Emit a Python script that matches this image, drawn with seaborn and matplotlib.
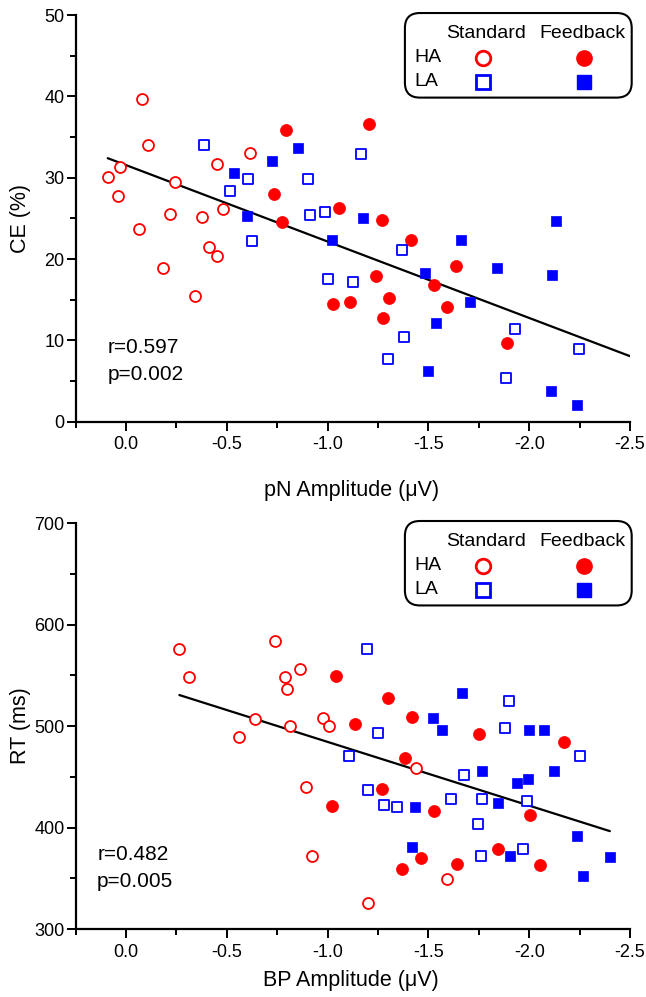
import numpy as np
import matplotlib
matplotlib.use("Agg")
import matplotlib.pyplot as plt
from matplotlib.patches import FancyBboxPatch
from matplotlib.ticker import MultipleLocator, FormatStrFormatter
import seaborn as sns

# ---------------- data: top panel (pN amplitude vs CE) ----------------
top_ha_std_x = [-0.08, -0.11, 0.03, 0.09, 0.04, -0.245, -0.45, -0.615, -0.22, -0.375, -0.48, -0.065, -0.41, -0.45, -0.185, -0.345]
top_ha_std_y = [39.7, 34.0, 31.3, 30.1, 27.7, 29.5, 31.7, 33.0, 25.6, 25.2, 26.2, 23.7, 21.5, 20.4, 18.9, 15.5]
top_ha_fb_x = [-0.795, -0.735, -1.055, -1.205, -0.775, -1.025, -1.11, -1.27, -1.415, -1.24, -1.305, -1.275, -1.635, -1.53, -1.59, -1.89]
top_ha_fb_y = [35.9, 28.0, 26.3, 36.6, 24.5, 14.5, 14.7, 24.8, 22.4, 17.9, 15.2, 12.7, 19.2, 16.8, 14.1, 9.7]
top_la_std_x = [-0.385, -0.605, -0.515, -0.905, -1.165, -0.915, -0.985, -0.625, -1.0, -1.125, -1.37, -1.38, -1.3, -1.93, -2.245, -1.885]
top_la_std_y = [34.0, 29.9, 28.4, 29.8, 32.9, 25.4, 25.8, 22.2, 17.6, 17.2, 21.1, 10.4, 7.7, 11.4, 9.0, 5.4]
top_la_fb_x = [-0.535, -0.725, -0.855, -0.6, -1.175, -1.02, -1.66, -1.485, -1.84, -2.135, -2.115, -1.705, -1.54, -1.5, -2.11, -2.235]
top_la_fb_y = [30.6, 32.1, 33.7, 25.3, 25.1, 22.4, 22.3, 18.3, 18.9, 24.7, 18.1, 14.7, 12.1, 6.25, 3.8, 2.0]

# ---------------- data: bottom panel (BP amplitude vs RT) ----------------
bot_ha_std_x = [-0.265, -0.315, -0.74, -0.865, -0.79, -0.80, -0.64, -0.815, -0.975, -1.005, -0.56, -0.895, -0.925, -1.2, -1.44, -1.59]
bot_ha_std_y = [576, 548, 584, 556, 548, 536, 507, 500, 508, 500, 489, 440, 372, 326, 459, 349]
bot_ha_fb_x = [-1.04, -1.135, -1.02, -1.30, -1.42, -1.75, -2.17, -1.385, -1.27, -1.53, -2.005, -1.845, -1.465, -1.37, -1.64, -2.055]
bot_ha_fb_y = [549, 502, 421, 528, 509, 492, 484, 468, 438, 416, 412, 379, 370, 359, 364, 363]
bot_la_std_x = [-1.195, -1.90, -1.105, -1.2, -1.25, -1.88, -2.25, -1.28, -1.345, -1.675, -1.61, -1.765, -1.99, -1.745, -1.76, -1.97]
bot_la_std_y = [576, 525, 470, 437, 493, 498, 470, 422, 420, 452, 428, 428, 426, 403, 372, 379]
bot_la_fb_x = [-1.665, -1.525, -1.565, -2.0, -2.075, -1.765, -2.125, -1.94, -1.995, -1.845, -1.435, -2.235, -1.42, -1.905, -2.40, -2.265]
bot_la_fb_y = [533, 508, 496, 496, 496, 456, 456, 444, 448, 424, 420, 392, 381, 372, 371, 352]

top_stats = ["r=0.597", "p=0.002"]
bot_stats = ["r=0.482", "p=0.005"]
top_xlabel = "pN Amplitude (\u03bcV)"
bot_xlabel = "BP Amplitude (\u03bcV)"
top_ylabel = "CE (%)"
bot_ylabel = "RT (ms)"
legend_cols = ["Standard", "Feedback"]
legend_rows = ["HA", "LA"]

RED = "#ff0000"
BLUE = "#0000ff"

sns.set_style("ticks")
plt.rcParams["font.family"] = ["Liberation Sans", "DejaVu Sans"]
plt.rcParams["axes.unicode_minus"] = False
plt.rcParams["text.color"] = "black"
plt.rcParams["axes.labelcolor"] = "black"
plt.rcParams["xtick.color"] = "black"
plt.rcParams["ytick.color"] = "black"
plt.rcParams["xtick.labelcolor"] = "black"
plt.rcParams["ytick.labelcolor"] = "black"

fig = plt.figure(figsize=(6.46, 9.97), dpi=100)
ax_top = fig.add_axes([0.1169, 0.5770, 0.8584, 0.4079])
ax_bot = fig.add_axes([0.1169, 0.0682, 0.8584, 0.4072])


def draw_panel(ax, groups, ylim, ymaj, ymin, stats, stats_x, xlabel, ylabel,
               extend_line, xlabel_y):
    (hsx, hsy), (hfx, hfy), (lsx, lsy), (lfx, lfy) = groups
    sns.scatterplot(x=hsx, y=hsy, ax=ax, marker="o", s=62, facecolor="white",
                    edgecolor=RED, linewidth=1.3, zorder=3)
    sns.scatterplot(x=hfx, y=hfy, ax=ax, marker="o", s=75, color=RED,
                    edgecolor=RED, linewidth=0.5, zorder=3)
    sns.scatterplot(x=lsx, y=lsy, ax=ax, marker="s", s=46, facecolor="white",
                    edgecolor=BLUE, linewidth=1.3, zorder=3)
    sns.scatterplot(x=lfx, y=lfy, ax=ax, marker="s", s=55, color=BLUE,
                    edgecolor=BLUE, linewidth=0.5, zorder=3)

    xall = np.array(hsx + hfx + lsx + lfx)
    yall = np.array(hsy + hfy + lsy + lfy)
    slope, intercept = np.polyfit(xall, yall, 1)
    x0 = xall.max()
    x1 = -2.5 if extend_line else xall.min()
    xs = np.array([x0, x1])
    ax.plot(xs, slope * xs + intercept, color="black", lw=1.6, zorder=2)

    ax.set_xlim(0.25, -2.5)
    ax.set_ylim(*ylim)
    ax.xaxis.set_major_locator(MultipleLocator(0.5))
    ax.xaxis.set_minor_locator(MultipleLocator(0.25))
    ax.xaxis.set_major_formatter(FormatStrFormatter("%.1f"))
    ax.yaxis.set_major_locator(MultipleLocator(ymaj))
    ax.yaxis.set_minor_locator(MultipleLocator(ymin))

    for side in ("top", "right"):
        ax.spines[side].set_visible(False)
    for side in ("left", "bottom"):
        ax.spines[side].set_linewidth(1.6)
        ax.spines[side].set_color("black")
    ax.tick_params(axis="both", which="major", length=6.5, width=1.4,
                   direction="out", labelsize=13, color="black",
                   labelcolor="black")
    ax.tick_params(axis="both", which="minor", length=4, width=1.4,
                   direction="out", color="black")
    ax.tick_params(axis="x", which="major", pad=4)
    ax.tick_params(axis="y", which="major", pad=1.5)

    ax.set_xlabel(xlabel, fontsize=15.5, va="center", color="black")
    ax.set_ylabel(ylabel, fontsize=15.5, va="center", color="black")
    ax.xaxis.set_label_coords(0.497, xlabel_y)
    ax.yaxis.set_label_coords(-0.100, 0.5)

    ax.text(stats_x, 0.183, stats[0], transform=ax.transAxes, fontsize=15,
            ha="left", va="center", color="black")
    ax.text(stats_x, 0.117, stats[1], transform=ax.transAxes, fontsize=15,
            ha="left", va="center", color="black")

    # legend box (rounded)
    w_px = 554.5
    h_px = ax.get_position().height * fig.get_figheight() * fig.dpi
    rs = 15.0 / w_px
    box = FancyBboxPatch((0.594, 0.797), 0.409, 0.208,
                         boxstyle="round,pad=0,rounding_size=%f" % rs,
                         mutation_aspect=w_px / h_px,
                         transform=ax.transAxes, facecolor="white",
                         edgecolor="black", lw=1.5, clip_on=False, zorder=4)
    ax.add_patch(box)
    ax.text(0.740, 0.955, legend_cols[0], transform=ax.transAxes, fontsize=14,
            ha="center", va="center", zorder=5, color="black")
    ax.text(0.915, 0.955, legend_cols[1], transform=ax.transAxes, fontsize=14,
            ha="center", va="center", zorder=5, color="black")
    ax.text(0.611, 0.895, legend_rows[0], transform=ax.transAxes, fontsize=14,
            ha="left", va="center", zorder=5, color="black")
    ax.text(0.611, 0.836, legend_rows[1], transform=ax.transAxes, fontsize=14,
            ha="left", va="center", zorder=5, color="black")
    ax.plot([0.735], [0.895], transform=ax.transAxes, marker="o", ms=10.5,
            mfc="white", mec=RED, mew=2.0, ls="none", clip_on=False, zorder=5)
    ax.plot([0.917], [0.895], transform=ax.transAxes, marker="o", ms=11,
            mfc=RED, mec=RED, ls="none", clip_on=False, zorder=5)
    ax.plot([0.735], [0.836], transform=ax.transAxes, marker="s", ms=10,
            mfc="white", mec=BLUE, mew=2.0, ls="none", clip_on=False, zorder=5)
    ax.plot([0.917], [0.836], transform=ax.transAxes, marker="s", ms=10.5,
            mfc=BLUE, mec=BLUE, ls="none", clip_on=False, zorder=5)
    return slope, intercept


draw_panel(ax_top,
           [(top_ha_std_x, top_ha_std_y), (top_ha_fb_x, top_ha_fb_y),
            (top_la_std_x, top_la_std_y), (top_la_fb_x, top_la_fb_y)],
           (0, 50), 10, 5, top_stats, 0.058, top_xlabel, top_ylabel, True,
           -0.168)
draw_panel(ax_bot,
           [(bot_ha_std_x, bot_ha_std_y), (bot_ha_fb_x, bot_ha_fb_y),
            (bot_la_std_x, bot_la_std_y), (bot_la_fb_x, bot_la_fb_y)],
           (300, 700), 100, 50, bot_stats, 0.039, bot_xlabel, bot_ylabel, False,
           -0.126)

fig.savefig("out.png", dpi=100)
